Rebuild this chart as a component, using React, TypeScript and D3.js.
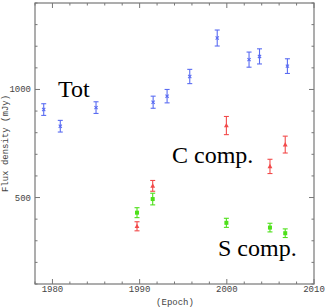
import React from "react";
import * as d3 from "d3";

const totYears = [1979.0, 1980.9, 1985.0, 1991.55, 1993.15, 1995.75, 1998.9, 2002.55, 2003.75, 2006.95];
const totFlux = [907, 830, 916, 941, 969, 1060, 1238, 1138, 1153, 1108];
const totErr = [27, 27, 27, 28, 31, 33, 37, 35, 35, 34];

const cYears = [1989.7, 1991.5, 1999.95, 2004.95, 2006.7];
const cFlux = [367, 554, 833, 644, 745];
const cErr = [21, 25, 42, 33, 39];

const sYears = [1989.7, 1991.5, 1999.95, 2004.95, 2006.7];
const sFlux = [430, 493, 383, 361, 335];
const sErr = [23, 27, 21, 20, 20];

const xMajor = [1980, 1990, 2000, 2010];
const xMinor = d3.range(1978, 2011, 2);
const yMajor = [500, 1000];
const yMinor = d3.range(100, 1401, 100);

const W = 327, H = 308;
const L = 35, R = 314, T = 3, B = 284;

export default function App() {
  const x = d3.scaleLinear().domain([1978, 2010]).range([L, R]);
  const y = d3.scaleLinear().domain([100, 1400]).range([B, T]);
  const frame = "#777";
  const blue = "#5a6cf2";
  const red = "#f24a4a";
  const green = "#4ee01a";

  const errBar = (cx: number, v: number, e: number, col: string, k: string) => (
    <g key={k} stroke={col} strokeWidth={1.1} fill="none">
      <line x1={cx} x2={cx} y1={y(v - e)} y2={y(v + e)} />
      <line x1={cx - 2.5} x2={cx + 2.5} y1={y(v - e)} y2={y(v - e)} />
      <line x1={cx - 2.5} x2={cx + 2.5} y1={y(v + e)} y2={y(v + e)} />
    </g>
  );

  return (
    <svg width={W} height={H} style={{ position: "absolute", left: 0, top: 0 }}>
      <rect x={0} y={0} width={W} height={H} fill="white" />
      <rect x={L} y={T} width={R - L} height={B - T} fill="none" stroke={frame} strokeWidth={1.2} />
      {xMinor.map((v) => {
        const len = xMajor.includes(v) ? 5 : 2.5;
        return (
          <g key={"xm" + v} stroke={frame} strokeWidth={1}>
            <line x1={x(v)} x2={x(v)} y1={B} y2={B - len} />
            <line x1={x(v)} x2={x(v)} y1={T} y2={T + len} />
          </g>
        );
      })}
      {yMinor.map((v) => {
        const len = yMajor.includes(v) ? 5 : 2.5;
        return (
          <g key={"ym" + v} stroke={frame} strokeWidth={1}>
            <line x1={L} x2={L + len} y1={y(v)} y2={y(v)} />
            <line x1={R} x2={R - len} y1={y(v)} y2={y(v)} />
          </g>
        );
      })}
      {xMajor.map((v) => (
        <text key={"xl" + v} x={x(v)} y={292} textAnchor="middle" fontFamily="Liberation Mono" fontSize={9} fill="#444">
          {v}
        </text>
      ))}
      {yMajor.map((v) => (
        <text key={"yl" + v} x={31} y={y(v) + 3} textAnchor="end" fontFamily="Liberation Mono" fontSize={9} fill="#444">
          {v}
        </text>
      ))}
      <text x={175} y={305} textAnchor="middle" fontFamily="Liberation Mono" fontSize={9} fill="#444">(Epoch)</text>
      <text transform={`translate(8,${(T + B) / 2}) rotate(-90)`} textAnchor="middle" fontFamily="Liberation Mono" fontSize={9} fill="#444">
        Flux density (mJy)
      </text>

      {totYears.map((v, i) => errBar(x(v), totFlux[i], totErr[i], blue, "te" + i))}
      {totYears.map((v, i) => (
        <g key={"tm" + i} stroke={blue} strokeWidth={1.1}>
          <line x1={x(v) - 1.6} x2={x(v) + 1.6} y1={y(totFlux[i]) - 1.6} y2={y(totFlux[i]) + 1.6} />
          <line x1={x(v) - 1.6} x2={x(v) + 1.6} y1={y(totFlux[i]) + 1.6} y2={y(totFlux[i]) - 1.6} />
        </g>
      ))}

      {cYears.map((v, i) => errBar(x(v), cFlux[i], cErr[i], red, "ce" + i))}
      {cYears.map((v, i) => {
        const cx = x(v), cy = y(cFlux[i]);
        return <path key={"cm" + i} d={`M${cx},${cy - 2.6}L${cx + 2.4},${cy + 1.8}L${cx - 2.4},${cy + 1.8}Z`} fill={red} />;
      })}

      {sYears.map((v, i) => errBar(x(v), sFlux[i], sErr[i], green, "se" + i))}
      {sYears.map((v, i) => (
        <rect key={"sm" + i} x={x(v) - 2} y={y(sFlux[i]) - 2} width={4} height={4} fill={green} />
      ))}

      <text x={58} y={97} fontFamily="Liberation Serif" fontSize={24} fill="#000">Tot</text>
      <text x={172} y={163} fontFamily="Liberation Serif" fontSize={24} fill="#000">C comp.</text>
      <text x={218} y={256} fontFamily="Liberation Serif" fontSize={24} fill="#000">S comp.</text>
    </svg>
  );
}
